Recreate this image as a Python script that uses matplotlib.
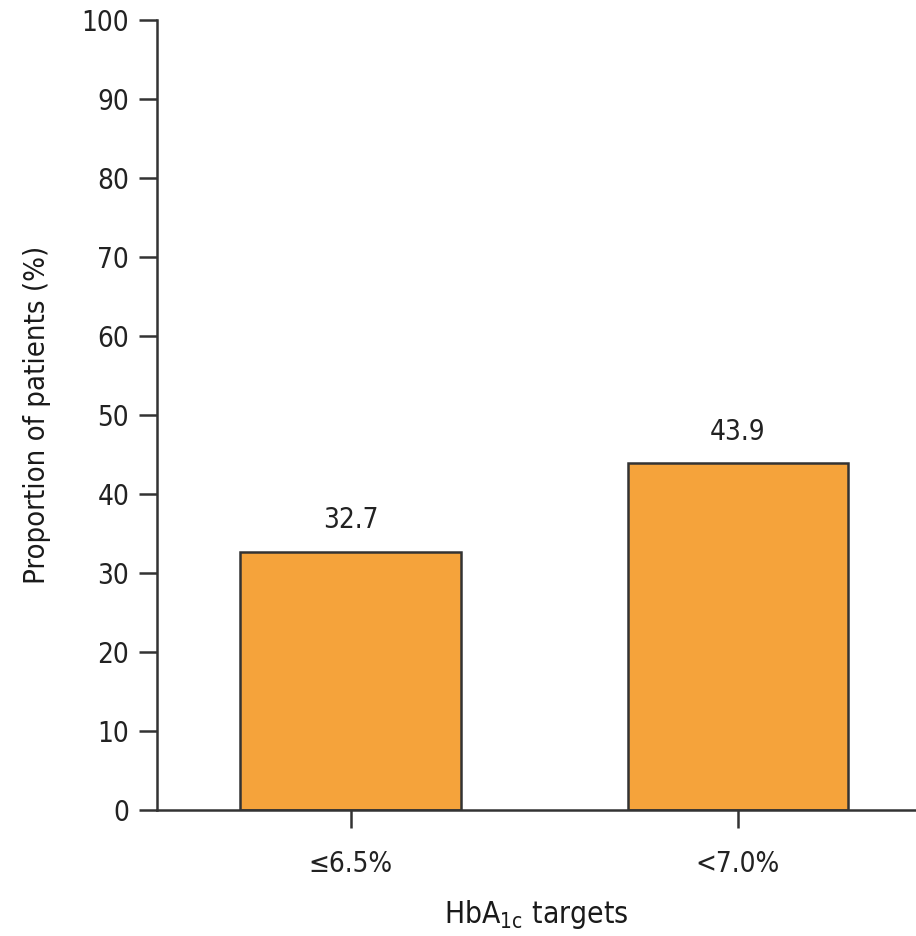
import matplotlib.pyplot as plt

categories = ['≤6.5%', '<7.0%']
values = [32.7, 43.9]
value_labels = ['32.7', '43.9']

plt.rcParams['font.family'] = ['DejaVu Sans']
plt.rcParams['font.stretch'] = 'condensed'
plt.rcParams['font.size'] = 20

fig = plt.figure(figsize=(9.16, 9.36), dpi=100)
ax = fig.add_axes([0.1714, 0.1346, 0.8286, 0.8440])

dark = '#333333'
x = range(len(categories))
ax.bar(x, values, width=0.57, color='#F5A33B', edgecolor=dark, linewidth=1.8)

for xi, v, lab in zip(x, values, value_labels):
    ax.text(xi, v + 2.2, lab, ha='center', va='bottom', color='#222222')

ax.set_xlim(-0.5, 1.46)
ax.set_ylim(0, 100)
ax.set_yticks(range(0, 101, 10))
ax.set_xticks(list(x))
ax.set_xticklabels(categories)

for s in ['top', 'right']:
    ax.spines[s].set_visible(False)
for s in ['left', 'bottom']:
    ax.spines[s].set_color(dark)
    ax.spines[s].set_linewidth(1.8)

ax.tick_params(axis='both', direction='out', length=13, width=1.8, color=dark,
               labelcolor='#222222')
ax.tick_params(axis='x', pad=16)
ax.tick_params(axis='y', pad=7)

ax.set_ylabel('Proportion of patients (%)', labelpad=22, color='#1a1a1a',
              fontsize=21)
ax.set_xlabel('HbA$_{\\mathregular{1c}}$ targets', labelpad=14, color='#1a1a1a',
              fontsize=21.5)

fig.savefig('out.png', dpi=100)
